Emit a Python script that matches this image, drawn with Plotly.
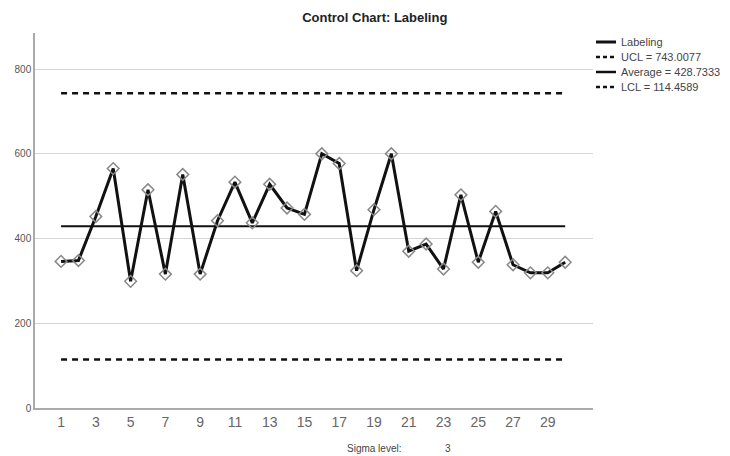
import plotly.graph_objects as go

samples = list(range(1, 31))
labeling = [346, 348, 452, 565, 299, 515, 316, 551, 316, 442,
            533, 437, 528, 472, 457, 600, 577, 324, 468, 600,
            370, 387, 328, 503, 344, 464, 338, 319, 319, 344]
ucl = 743.0077
average = 428.7333
lcl = 114.4589
sigma_level = 3
x_tick_labels = [str(v) for v in range(1, 30, 2)]
y_tick_vals = [0, 200, 400, 600, 800]

legend_names = ["Labeling", "UCL = %.4f" % ucl, "Average = %.4f" % average, "LCL = %.4f" % lcl]
legend_dash = ["solid", "dash", "solid", "dash"]

font_family = "Liberation Sans, Arial, sans-serif"
INK = "#111111"

fig = go.Figure()

fig.add_trace(go.Scatter(x=[samples[0], samples[-1]], y=[ucl, ucl], mode="lines",
                         line=dict(color=INK, width=2.5, dash="6px,5px"),
                         name=legend_names[1], showlegend=False))
fig.add_trace(go.Scatter(x=[samples[0], samples[-1]], y=[average, average], mode="lines",
                         line=dict(color=INK, width=2),
                         name=legend_names[2], showlegend=False))
fig.add_trace(go.Scatter(x=[samples[0], samples[-1]], y=[lcl, lcl], mode="lines",
                         line=dict(color=INK, width=2.5, dash="6px,5px"),
                         name=legend_names[3], showlegend=False))
fig.add_trace(go.Scatter(x=samples, y=labeling, mode="lines+markers",
                         line=dict(color=INK, width=3),
                         marker=dict(symbol="diamond-open", size=9, color="#888888",
                                     line=dict(width=1.5, color="#888888")),
                         name=legend_names[0], showlegend=False))

# Manual legend (compact, like the reference)
shapes = []
annotations = []
leg_y = [0.976, 0.936, 0.896, 0.856]
for name, dash, yy in zip(legend_names, legend_dash, leg_y):
    shapes.append(dict(type="line", xref="paper", yref="paper",
                       x0=1.0054, x1=1.0412, y0=yy, y1=yy,
                       line=dict(color=INK, width=3 if name == "Labeling" else 2.5,
                                 dash="solid" if dash == "solid" else "4px,3px")))
    annotations.append(dict(text=name, xref="paper", yref="paper", x=1.0466, y=yy,
                            xanchor="left", yanchor="middle", showarrow=False,
                            font=dict(size=11, color="#444444")))

annotations += [
    dict(text="Sigma level:", x=0.556, y=-0.109, xref="paper", yref="paper",
         xanchor="left", yanchor="middle", showarrow=False,
         font=dict(size=10, color="#444444")),
    dict(text=str(sigma_level), x=0.731, y=-0.109, xref="paper", yref="paper",
         xanchor="left", yanchor="middle", showarrow=False,
         font=dict(size=10, color="#444444")),
]

fig.update_layout(
    width=722, height=448,
    margin=dict(l=27, r=137, t=25, b=48, autoexpand=False),
    paper_bgcolor="white", plot_bgcolor="white",
    font=dict(family=font_family, color="#333333"),
    title=dict(text="<b>Control Chart: Labeling</b>", x=0.508, xanchor="center",
               y=0.978, yanchor="middle", font=dict(size=13, color="#222222")),
    showlegend=False,
    xaxis=dict(range=[-0.5, 31.6], tickmode="array", automargin=False,
               tickvals=[int(t) for t in x_tick_labels], ticktext=x_tick_labels,
               showgrid=False, zeroline=False, showline=True, linecolor="#aaaaaa",
               linewidth=1.5, ticks="", tickfont=dict(size=14, color="#666666")),
    yaxis=dict(range=[0, 885], tickmode="array", tickvals=y_tick_vals, automargin=False,
               showgrid=True, gridcolor="#d4d4d4", gridwidth=1.2, zeroline=False,
               showline=True, linecolor="#aaaaaa", linewidth=1.5, ticks="",
               tickfont=dict(size=10, color="#555555")),
    shapes=shapes,
    annotations=annotations,
)

fig.write_html("out.html")
